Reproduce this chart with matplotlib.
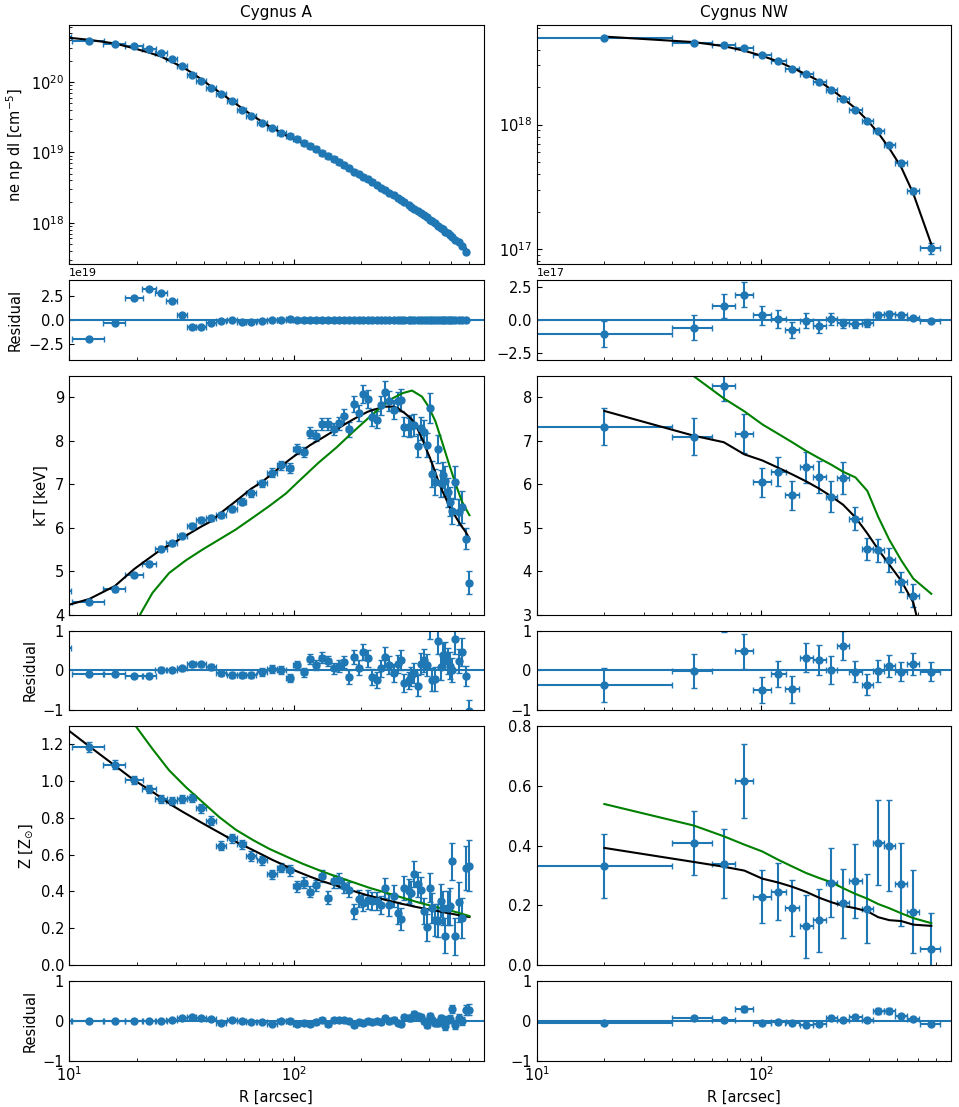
import numpy as np
import matplotlib
matplotlib.use("Agg")
import matplotlib.pyplot as plt

plt.rcParams["font.size"] = 10.5

# ---------------- Cygnus A ----------------
ca_r = [7.0, 12.3, 16.0, 19.5, 22.7, 25.7, 28.6, 31.9, 35.2, 38.8, 42.9, 47.5, 53.0, 58.6, 64.7,
        72.4, 80.0, 88.0, 95.8, 103, 111, 118, 126, 134, 142, 151, 159, 167, 176, 186, 195, 204,
        213, 224, 235, 245, 256, 266, 278, 291, 301, 310, 325, 333, 343, 356, 367, 380, 391, 403,
        414, 427, 439, 451, 460, 473, 484, 494, 508, 523, 542, 561, 583, 605]
ca_rerr = [3.2, 2.0, 1.8, 1.8, 1.6, 1.5, 1.5, 1.7, 1.7, 1.9, 2.2, 2.4, 2.8, 2.8, 3.3,
           3.9, 3.9, 4.0, 3.9, 3.8, 3.8, 3.8, 4.0, 4.0, 4.2, 4.2, 4.2, 4.5, 4.7, 4.7, 4.6, 4.6,
           5.0, 5.5, 5.2, 5.2, 5.2, 5.5, 6.2, 5.7, 4.8, 6.5, 5.5, 4.7, 6.0, 6.0, 6.0, 6.0, 6.0, 5.8,
           6.2, 6.2, 6.0, 4.5, 5.5, 6.0, 5.5, 6.0, 7.5, 8.5, 9.5, 10, 11, 11]

ca_dens = [4.30e20, 3.78e20, 3.50e20, 3.24e20, 2.94e20, 2.58e20, 2.14e20, 1.69e20, 1.28e20, 1.02e20,
           8.30e19, 6.84e19, 5.38e19, 4.05e19, 3.26e19, 2.62e19, 2.23e19, 1.91e19, 1.70e19,
           1.54e19, 1.37e19, 1.24e19, 1.11e19, 9.95e18, 9.0e18, 8.02e18, 7.27e18, 6.62e18, 5.96e18,
           5.34e18, 4.91e18, 4.46e18, 4.14e18, 3.74e18, 3.42e18, 3.15e18, 2.91e18, 2.69e18, 2.46e18,
           2.25e18, 2.11e18, 1.98e18, 1.79e18, 1.69e18, 1.59e18, 1.47e18, 1.36e18, 1.27e18, 1.19e18,
           1.11e18, 1.05e18, 9.8e17, 9.1e17, 8.5e17, 8.05e17, 7.5e17, 7.05e17, 6.7e17, 6.22e17,
           5.78e17, 5.25e17, 4.75e17, 3.85e17]
ca_dens_model = [4.80e20, 3.98e20, 3.53e20, 3.01e20, 2.62e20, 2.30e20, 1.94e20, 1.64e20, 1.355e20,
                 1.095e20, 8.64e19, 6.91e19, 5.38e19, 4.29e19, 3.43e19, 2.72e19, 2.23e19, 1.91e19,
                 1.63e19, 1.49e19, 1.32e19, 1.19e19, 1.06e19, 9.5e18, 8.6e18, 7.67e18, 6.97e18,
                 6.32e18, 5.71e18, 5.14e18, 4.71e18, 4.31e18, 3.99e18, 3.62e18, 3.30e18, 3.05e18,
                 2.81e18, 2.61e18, 2.39e18, 2.19e18, 2.05e18, 1.93e18, 1.74e18, 1.65e18, 1.55e18,
                 1.43e18, 1.33e18, 1.24e18, 1.17e18, 1.09e18, 1.03e18, 9.6e17, 8.95e17, 8.35e17,
                 7.93e17, 7.39e17, 6.97e17, 6.62e17, 6.17e17, 5.75e17, 5.25e17, 4.81e17, 4.35e17]
ca_dens_res = [-5.0e19, -2.0e19, -0.27e19, 2.29e19, 3.2e19, 2.8e19, 2.0e19, 0.5e19, -0.75e19, -0.75e19,
               -0.34e19, -0.07e19, 0.0, -0.24e19, -0.17e19, -0.1e19, 0.0, 0.0, 0.07e19,
               5e17, 5e17, 5e17, 5e17, 4.5e17, 4e17, 3.5e17, 3e17, 3e17, 2.5e17, 2e17, 2e17, 1.5e17,
               1.5e17, 1.2e17, 1.2e17, 1e17, 1e17, 8e16, 7e16, 6e16, 6e16, 5e16, 5e16, 4e16, 4e16,
               4e16, 3e16, 3e16, 2e16, 2e16, 2e16, 2e16, 1.5e16, 1.5e16, 1.2e16, 1.1e16, 8e15, 8e15,
               5e15, 3e15, 0.0, -6e15, -5e16]

ca_kt = [4.55, 4.28, 4.58, 4.91, 5.17, 5.52, 5.64, 5.82, 6.05, 6.18, 6.23, 6.29, 6.43, 6.60, 6.79,
         7.02, 7.27, 7.44, 7.38, 7.82, 7.75, 8.19, 8.12, 8.39, 8.39, 8.28, 8.41, 8.58, 8.27, 8.85,
         8.64, 9.08, 8.97, 8.54, 8.49, 8.82, 9.12, 8.92, 8.72, 8.91, 8.95, 8.33, 8.31, 8.36, 8.37,
         7.89, 8.29, 8.20, 7.91, 8.76, 7.23, 7.05, 7.82, 7.02, 7.21, 7.08, 6.82, 6.60, 6.38, 7.05,
         6.37, 6.48, 5.75, 4.74]
ca_kt_err = [0.05, 0.04, 0.05, 0.05, 0.06, 0.06, 0.06, 0.06, 0.06, 0.07, 0.07, 0.07, 0.07, 0.08, 0.08,
             0.09, 0.10, 0.10, 0.11, 0.11, 0.12, 0.12, 0.13, 0.13, 0.13, 0.14, 0.15, 0.16, 0.17, 0.18,
             0.19, 0.20, 0.21, 0.20, 0.20, 0.22, 0.25, 0.22, 0.22, 0.22, 0.25, 0.22, 0.22, 0.24, 0.25,
             0.26, 0.26, 0.28, 0.28, 0.35, 0.30, 0.30, 0.32, 0.32, 0.30, 0.34, 0.33, 0.34, 0.30, 0.38,
             0.30, 0.36, 0.25, 0.26]
ca_kt_model = [4.0, 4.36, 4.66, 5.05, 5.30, 5.50, 5.63, 5.77, 5.90, 6.03, 6.15, 6.35, 6.54, 6.72, 6.90,
               7.06, 7.24, 7.42, 7.57, 7.69, 7.80, 7.90, 7.99, 8.07, 8.15, 8.23, 8.30, 8.37, 8.44, 8.51,
               8.57, 8.62, 8.67, 8.71, 8.74, 8.77, 8.79, 8.79, 8.79, 8.75, 8.69, 8.65, 8.56, 8.51, 8.43,
               8.27, 8.12, 7.95, 7.78, 7.62, 7.46, 7.27, 7.09, 6.94, 6.83, 6.70, 6.58, 6.48, 6.37, 6.27,
               6.14, 6.02, 5.90, 5.75]
ca_kt_res = [0.55, -0.08, -0.08, -0.14, -0.13, 0.02, 0.01, 0.05, 0.15, 0.15, 0.08, -0.06, -0.11, -0.12,
             -0.11, -0.04, 0.03, 0.02, -0.19, 0.13, -0.05, 0.29, 0.13, 0.32, 0.24, 0.05, 0.11, 0.21,
             -0.17, 0.34, 0.07, 0.46, 0.30, -0.17, -0.25, 0.05, 0.33, 0.13, -0.07, 0.16, 0.26, -0.32,
             -0.25, -0.15, -0.06, -0.38, 0.17, 0.25, 0.13, 1.14, -0.23, -0.22, 0.73, 0.08, 0.38, 0.38,
             0.24, 0.12, 0.01, 0.78, 0.23, 0.46, -0.15, -1.01]
ca_kt_green_r = [7, 12.3, 16, 19.5, 20.7, 23.5, 27.9, 33.1, 39.3, 46.6, 55.2, 65.6, 77.8, 92.3, 105.7,
                 129, 155, 182, 212, 245, 275, 305, 336, 372, 398, 427, 457, 490, 524, 561, 605]
ca_kt_green = [1.0, 2.2, 3.0, 3.7, 4.0, 4.5, 4.96, 5.25, 5.5, 5.73, 5.96, 6.23, 6.5, 6.79, 7.08,
               7.5, 7.85, 8.19, 8.5, 8.78, 8.98, 9.1, 9.16, 9.02, 8.79, 8.45, 7.98, 7.48, 7.02, 6.6, 6.29]

ca_z = [1.40, 1.186, 1.089, 1.007, 0.958, 0.903, 0.890, 0.903, 0.907, 0.852, 0.785, 0.648, 0.690,
        0.657, 0.593, 0.569, 0.493, 0.529, 0.515, 0.429, 0.447, 0.398, 0.434, 0.484, 0.365, 0.456,
        0.460, 0.429, 0.410, 0.292, 0.361, 0.338, 0.356, 0.347, 0.347, 0.328, 0.420, 0.328, 0.374,
        0.283, 0.252, 0.420, 0.402, 0.392, 0.496, 0.438, 0.410, 0.292, 0.204, 0.420, 0.310, 0.245,
        0.240, 0.350, 0.310, 0.160, 0.310, 0.319, 0.565, 0.155, 0.343, 0.255, 0.529, 0.540]
ca_z_err = [0.03, 0.025, 0.025, 0.022, 0.022, 0.022, 0.022, 0.022, 0.022, 0.025, 0.025, 0.025, 0.025,
            0.025, 0.025, 0.025, 0.025, 0.025, 0.03, 0.03, 0.03, 0.03, 0.03, 0.035, 0.035, 0.035,
            0.04, 0.04, 0.04, 0.04, 0.045, 0.045, 0.05, 0.05, 0.05, 0.05, 0.055, 0.06, 0.06, 0.06,
            0.06, 0.065, 0.065, 0.065, 0.07, 0.07, 0.07, 0.07, 0.075, 0.08, 0.08, 0.085, 0.09, 0.09,
            0.09, 0.095, 0.095, 0.1, 0.1, 0.1, 0.11, 0.11, 0.12, 0.14]
ca_z_model = [1.42, 1.19, 1.085, 1.005, 0.955, 0.91, 0.87, 0.835, 0.805, 0.775, 0.745, 0.715, 0.682,
              0.655, 0.63, 0.60, 0.573, 0.55, 0.528, 0.51, 0.494, 0.481, 0.468, 0.456, 0.446, 0.436,
              0.427, 0.419, 0.41, 0.401, 0.393, 0.386, 0.379, 0.372, 0.366, 0.36, 0.354, 0.349, 0.344,
              0.338, 0.333, 0.33, 0.325, 0.322, 0.318, 0.314, 0.311, 0.307, 0.304, 0.301, 0.298,
              0.296, 0.293, 0.29, 0.288, 0.285, 0.283, 0.281, 0.278, 0.275, 0.271, 0.268, 0.264, 0.261]
ca_z_res = [-0.02, 0.0, 0.0, 0.0, 0.0, -0.01, 0.02, 0.07, 0.10, 0.08, 0.04, -0.07, 0.01, 0.0, -0.04,
            -0.03, -0.08, -0.02, -0.01, -0.08, -0.05, -0.08, -0.03, 0.03, -0.08, 0.02, 0.03, 0.01,
            0.0, -0.11, -0.03, -0.05, -0.02, -0.03, -0.02, -0.03, 0.07, -0.02, 0.03, -0.06, -0.08,
            0.09, 0.08, 0.07, 0.18, 0.12, 0.10, -0.02, -0.10, 0.12, 0.01, -0.05, -0.05, 0.06, 0.02,
            -0.13, 0.03, 0.04, 0.29, -0.12, 0.07, -0.01, 0.27, 0.28]
ca_z_green_r = [7, 12.3, 16, 19.8, 23.5, 27.9, 33.1, 39.3, 46.6, 55.2, 65.6, 77.8, 92.3, 109.5, 130,
                154, 183, 217, 258, 305, 362, 430, 510, 605]
ca_z_green = [2.6, 1.9, 1.55, 1.30, 1.176, 1.059, 0.968, 0.886, 0.805, 0.736, 0.681, 0.632, 0.591,
              0.551, 0.515, 0.482, 0.451, 0.42, 0.393, 0.366, 0.339, 0.315, 0.293, 0.266]

# ---------------- Cygnus NW ----------------
nw_r = [20, 50, 68, 84, 101, 119, 137, 158, 181, 205, 231, 262, 296, 331, 371, 419, 474, 570]
nw_rerr_lo = [19, 10, 8, 8, 9, 9, 10, 10, 12, 12, 13, 16, 17, 18, 21, 25, 30, 63]
nw_rerr_hi = [20, 10, 8, 8, 9, 9, 10, 11, 12, 13, 14, 17, 17, 19, 22, 27, 31, 52]

nw_dens = [4.97e18, 4.53e18, 4.37e18, 4.10e18, 3.59e18, 3.21e18, 2.77e18, 2.53e18, 2.18e18,
           1.91e18, 1.60e18, 1.32e18, 1.06e18, 8.96e17, 6.87e17, 4.90e17, 2.93e17, 1.02e17]
nw_dens_err = [1.0e17, 0.95e17, 0.9e17, 0.95e17, 0.7e17, 0.7e17, 0.6e17, 0.55e17, 0.5e17, 0.45e17,
               0.35e17, 0.3e17, 0.3e17, 0.25e17, 0.25e17, 0.2e17, 0.15e17, 0.1e17]
nw_dens_model = [5.08e18, 4.59e18, 4.26e18, 3.91e18, 3.555e18, 3.20e18, 2.85e18, 2.535e18, 2.23e18,
                 1.905e18, 1.625e18, 1.35e18, 1.083e18, 8.58e17, 6.44e17, 4.55e17, 2.80e17, 1.10e17]
nw_dens_res = [-1.06e17, -0.58e17, 1.09e17, 1.92e17, 0.35e17, 0.08e17, -0.76e17, -0.05e17, -0.48e17,
               0.05e17, -0.25e17, -0.30e17, -0.23e17, 0.38e17, 0.43e17, 0.35e17, 0.13e17, -0.08e17]

nw_kt = [7.33, 7.10, 8.27, 7.17, 6.05, 6.29, 5.75, 6.39, 6.16, 5.72, 6.15, 5.21, 4.51, 4.48, 4.26,
         3.75, 3.44, 1.57]
nw_kt_err = [0.43, 0.42, 0.34, 0.44, 0.33, 0.33, 0.33, 0.36, 0.37, 0.35, 0.37, 0.26, 0.26, 0.27, 0.27,
             0.24, 0.27, 0.24]
nw_kt_model = [7.69, 7.12, 6.97, 6.69, 6.55, 6.38, 6.23, 6.07, 5.90, 5.72, 5.53, 5.24, 4.87, 4.50,
               4.15, 3.78, 3.28, 1.60]
nw_kt_res = [-0.36, -0.02, 1.30, 0.48, -0.50, -0.09, -0.48, 0.32, 0.26, 0.00, 0.62, -0.03, -0.36,
             -0.02, 0.11, -0.03, 0.16, -0.03]
nw_kt_green = [10.5, 8.49, 7.98, 7.68, 7.38, 7.16, 6.97, 6.77, 6.60, 6.45, 6.29, 6.16, 5.85, 5.25,
               4.72, 4.25, 3.83, 3.48]

nw_z = [0.332, 0.407, 0.339, 0.616, 0.229, 0.246, 0.190, 0.129, 0.149, 0.276, 0.206, 0.280, 0.188,
        0.410, 0.400, 0.270, 0.179, 0.053]
nw_z_err = [0.108, 0.107, 0.115, 0.125, 0.090, 0.096, 0.094, 0.107, 0.106, 0.117, 0.117, 0.124,
            0.116, 0.143, 0.152, 0.139, 0.140, 0.120]
nw_z_model = [0.392, 0.345, 0.329, 0.316, 0.289, 0.276, 0.262, 0.245, 0.225, 0.210, 0.198, 0.190,
              0.180, 0.160, 0.150, 0.147, 0.135, 0.131]
nw_z_res = [-0.06, 0.06, 0.01, 0.30, -0.06, -0.03, -0.07, -0.12, -0.08, 0.07, 0.01, 0.09, 0.01, 0.25,
            0.25, 0.12, 0.04, -0.08]
nw_z_res_err = [0.04, 0.05, 0.05, 0.08, 0.05, 0.05, 0.05, 0.05, 0.05, 0.05, 0.05, 0.06, 0.05, 0.07,
                0.07, 0.06, 0.06, 0.03]
nw_z_green = [0.539, 0.467, 0.431, 0.403, 0.380, 0.352, 0.330, 0.308, 0.291, 0.277, 0.257, 0.238,
              0.222, 0.204, 0.190, 0.173, 0.157, 0.140]


eb_kw = dict(fmt="o", color="C0", ms=5, capsize=2.5)


def data_panel(ax, r, rerr, y, yerr, model, green_r=None, green=None):
    n = len(y)
    xe = rerr if isinstance(rerr[0], list) else rerr[:n]
    ax.errorbar(r[:n], y, xerr=xe, yerr=yerr, **eb_kw)
    ax.plot(r[:len(model)], model, "k-", lw=1.5)
    if green is not None:
        ax.plot(green_r, green, "g-", lw=1.5)


def resid_panel(ax, r, rerr, res, err):
    n = len(res)
    xe = rerr if isinstance(rerr[0], list) else rerr[:n]
    ax.errorbar(r[:n], res, xerr=xe, yerr=err, **eb_kw)
    ax.axhline(0, color="C0", lw=1.5)


fig = plt.figure(figsize=(9.59, 11.07), dpi=100)
gs = fig.add_gridspec(6, 2, height_ratios=[3, 1, 3, 1, 3, 1], left=0.072, right=0.992,
                      top=0.977, bottom=0.042, hspace=0.1, wspace=0.128)

axes = [[None] * 2 for _ in range(6)]
for c in range(2):
    axes[0][c] = fig.add_subplot(gs[0, c])
    for r in range(1, 6):
        axes[r][c] = fig.add_subplot(gs[r, c], sharex=axes[0][c])

# Cygnus A column
a = [axes[i][0] for i in range(6)]
data_panel(a[0], ca_r, ca_rerr, ca_dens, None, ca_dens_model)
resid_panel(a[1], ca_r, ca_rerr, ca_dens_res, None)
data_panel(a[2], ca_r, ca_rerr, ca_kt, ca_kt_err, ca_kt_model, ca_kt_green_r, ca_kt_green)
resid_panel(a[3], ca_r, ca_rerr, ca_kt_res, ca_kt_err)
data_panel(a[4], ca_r, ca_rerr, ca_z, ca_z_err, ca_z_model, ca_z_green_r, ca_z_green)
resid_panel(a[5], ca_r, ca_rerr, ca_z_res, ca_z_err)

# Cygnus NW column
b = [axes[i][1] for i in range(6)]
nw_xerr = [nw_rerr_lo, nw_rerr_hi]
data_panel(b[0], nw_r, nw_xerr, nw_dens, nw_dens_err, nw_dens_model)
resid_panel(b[1], nw_r, nw_xerr, nw_dens_res, nw_dens_err)
data_panel(b[2], nw_r, nw_xerr, nw_kt, nw_kt_err, nw_kt_model, nw_r, nw_kt_green)
resid_panel(b[3], nw_r, nw_xerr, nw_kt_res, nw_kt_err)
data_panel(b[4], nw_r, nw_xerr, nw_z, nw_z_err, nw_z_model, nw_r, nw_z_green)
resid_panel(b[5], nw_r, nw_xerr, nw_z_res, nw_z_res_err)

for c in range(2):
    axes[0][c].set_xscale("log")
    axes[0][c].set_xlim(10, 700)
    axes[0][c].set_yscale("log")
    for r in range(6):
        ax = axes[r][c]
        ax.tick_params(which="both", direction="in")
        if r < 5:
            ax.tick_params(labelbottom=False)
        ax.yaxis.get_offset_text().set_fontsize(8)
    axes[5][c].set_xlabel("R [arcsec]")
    for r in (3, 5):
        axes[r][c].set_ylim(-1, 1)
        axes[r][c].set_yticks([-1, 0, 1])

a[0].set_ylim(2.57e17, 6.37e20)
b[0].set_ylim(7.58e16, 6.24e18)
a[1].set_ylim(-4.1e19, 4.1e19)
a[1].set_yticks([-2.5e19, 0, 2.5e19])
b[1].set_ylim(-3.03e17, 3.03e17)
b[1].set_yticks([-2.5e17, 0, 2.5e17])
a[2].set_ylim(4, 9.5)
b[2].set_ylim(3, 8.5)
a[4].set_ylim(0, 1.3)
b[4].set_ylim(0, 0.8)
b[4].set_yticks([0.0, 0.2, 0.4, 0.6, 0.8])

a[0].set_title("Cygnus A", fontsize=11)
b[0].set_title("Cygnus NW", fontsize=11)
a[0].set_ylabel("ne np dl [cm$^{-5}$]")
a[1].set_ylabel("Residual")
a[2].set_ylabel("kT [keV]")
a[3].set_ylabel("Residual")
a[4].set_ylabel("Z [Z$_{\\odot}$]")
a[5].set_ylabel("Residual")

fig.savefig("out.png", dpi=100)
